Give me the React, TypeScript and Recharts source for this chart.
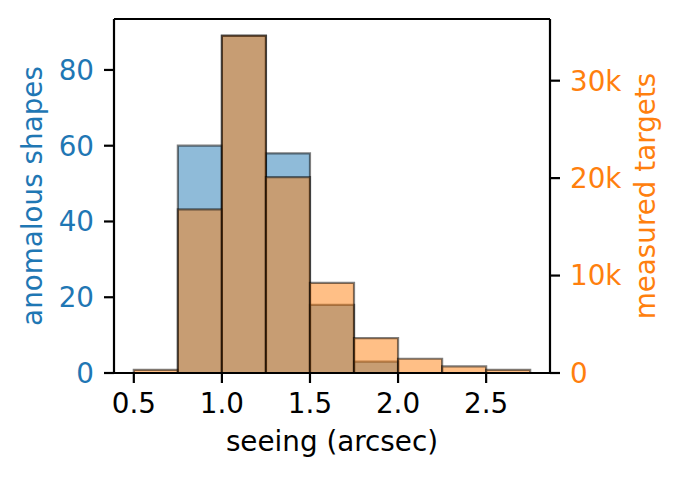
import React from "react";
import {
  ComposedChart,
  Line,
  XAxis,
  YAxis,
  ReferenceArea,
  ReferenceLine,
} from "recharts";

// histogram bins (left edge), width 0.25 arcsec
const binStarts = [0.5, 0.75, 1.0, 1.25, 1.5, 1.75, 2.0, 2.25, 2.5];
const binWidth = 0.25;
const anomalousShapes = [0, 60, 89, 58, 18, 3, 0, 0, 0];
const measuredTargets = [330, 16800, 34630, 20100, 9240, 3580, 1460, 670, 330];

const xTicks = [0.5, 1.0, 1.5, 2.0, 2.5];
const leftTicks = [0, 20, 40, 60, 80];
const rightTicks = [0, 10000, 20000, 30000];

const BLUE = "#1f77b4";
const ORANGE = "#ff7f0e";
const FONT = 27.8;

const data = binStarts.map((s, i) => ({
  center: s + binWidth / 2,
  blue: anomalousShapes[i],
  orange: measuredTargets[i],
}));

const xDomain = [0.3875, 2.8625];
const leftMax = 93.45;

export default function App() {
  return (
    <div
      style={{
        position: "absolute",
        left: 0,
        top: 0,
        width: 681,
        height: 480,
        background: "#fff",
        fontFamily: "'DejaVu Sans', sans-serif",
      }}
    >
      <ComposedChart
        width={681}
        height={480}
        data={data}
        margin={{ top: 19, right: 0, left: 0, bottom: 0 }}
      >
        <XAxis
          xAxisId="x"
          dataKey="center"
          type="number"
          domain={xDomain}
          ticks={xTicks}
          tickFormatter={(v: number) => v.toFixed(1)}
          allowDataOverflow
          height={107}
          stroke="#000"
          strokeWidth={2.2}
          tickSize={10}
          tickMargin={10}
          tick={{ fill: "#000", fontSize: FONT }}
          tickLine={{ stroke: "#000", strokeWidth: 2.2 }}
          label={{
            value: "seeing (arcsec)",
            position: "insideBottom",
            offset: 29,
            style: { fill: "#000", fontSize: FONT },
          }}
        />
        <YAxis
          yAxisId="left"
          domain={[0, leftMax]}
          ticks={leftTicks}
          allowDataOverflow
          width={114}
          stroke="#000"
          strokeWidth={2.2}
          tickSize={10}
          tickMargin={10}
          tick={{ fill: BLUE, fontSize: FONT }}
          tickLine={{ stroke: "#000", strokeWidth: 2.2 }}
          label={{
            value: "anomalous shapes",
            angle: -90,
            position: "insideLeft",
            offset: 32,
            style: { fill: BLUE, fontSize: FONT, textAnchor: "middle" },
          }}
        />
        <YAxis
          yAxisId="right"
          orientation="right"
          domain={[0, 36330]}
          ticks={rightTicks}
          allowDataOverflow
          width={131}
          stroke="#000"
          strokeWidth={2.2}
          tickSize={10}
          tickMargin={10}
          tickFormatter={(v: number) => (v === 0 ? "0" : `${v / 1000}k`)}
          tick={{ fill: ORANGE, fontSize: FONT }}
          tickLine={{ stroke: "#000", strokeWidth: 2.2 }}
          label={{
            value: "measured targets",
            angle: -90,
            position: "insideLeft",
            offset: 95,
            style: { fill: ORANGE, fontSize: FONT, textAnchor: "middle" },
          }}
        />

        {/* blue histogram first, orange twin-axis histogram on top */}
        {binStarts.map((s, i) =>
          anomalousShapes[i] > 0 ? (
            <ReferenceArea
              key={`b${i}`}
              xAxisId="x"
              yAxisId="left"
              x1={s}
              x2={s + binWidth}
              y1={0}
              y2={anomalousShapes[i]}
              fill={BLUE}
              fillOpacity={0.5}
              stroke="#000"
              strokeOpacity={0.5}
              strokeWidth={2.2}
              ifOverflow="visible"
            />
          ) : null
        )}
        {binStarts.map((s, i) => (
          <ReferenceArea
            key={`o${i}`}
            xAxisId="x"
            yAxisId="right"
            x1={s}
            x2={s + binWidth}
            y1={0}
            y2={measuredTargets[i]}
            fill={ORANGE}
            fillOpacity={0.5}
            stroke="#000"
            strokeOpacity={0.5}
            strokeWidth={2.2}
            ifOverflow="visible"
          />
        ))}

        {/* top spine */}
        <ReferenceLine
          xAxisId="x"
          yAxisId="left"
          y={leftMax}
          stroke="#000"
          strokeWidth={2.2}
          ifOverflow="visible"
        />

        {/* invisible series so both value axes are bound to data */}
        <Line
          xAxisId="x"
          yAxisId="left"
          dataKey="blue"
          stroke="none"
          dot={false}
          activeDot={false}
          isAnimationActive={false}
        />
        <Line
          xAxisId="x"
          yAxisId="right"
          dataKey="orange"
          stroke="none"
          dot={false}
          activeDot={false}
          isAnimationActive={false}
        />
      </ComposedChart>
    </div>
  );
}
